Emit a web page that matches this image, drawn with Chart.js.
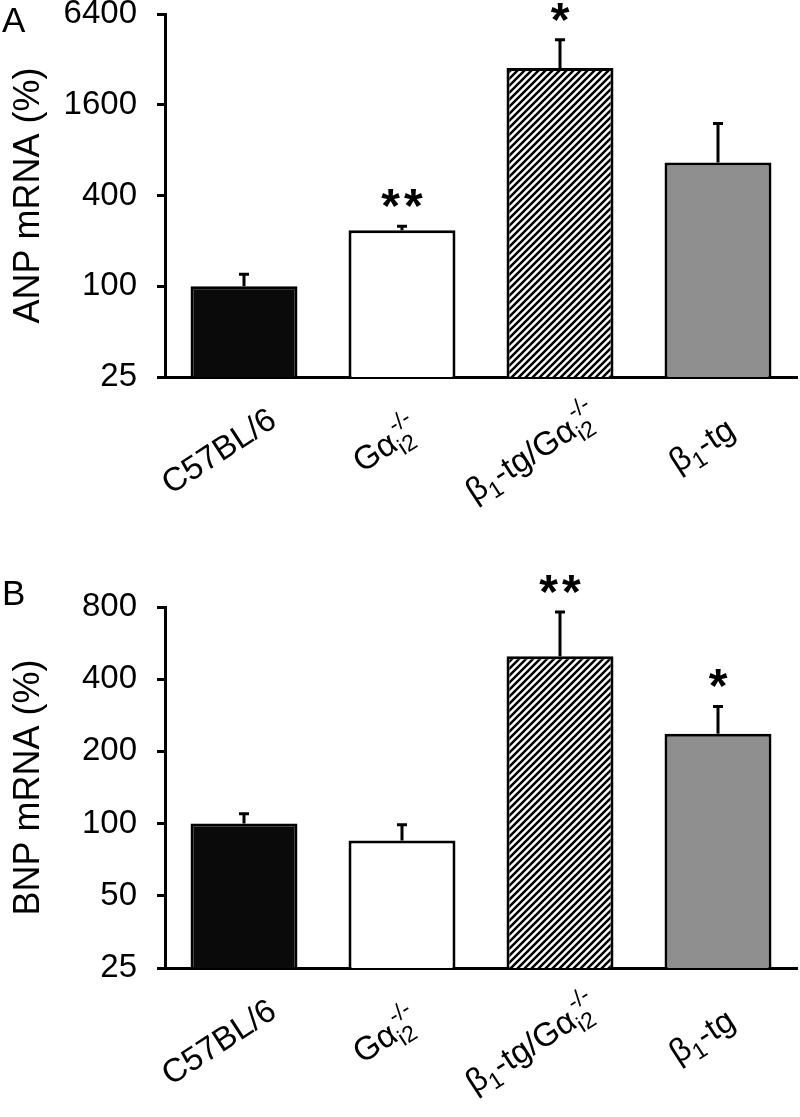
<!DOCTYPE html>
<html lang="en">
<head>
<meta charset="UTF-8">
<title>ANP and BNP mRNA</title>
<script src="https://cdn.jsdelivr.net/npm/chart.js@4/dist/chart.umd.min.js"></script>
<style>
  html, body { margin: 0; padding: 0; background: #fff; }
  .panel { position: absolute; left: 0; width: 800px; }
  #panelA { top: 0; height: 555px; }
  #panelB { top: 555px; height: 562px; }
</style>
</head>
<body>

<div class="panel" id="panelA"><canvas id="chartA" width="800" height="555"></canvas></div>
<div class="panel" id="panelB"><canvas id="chartB" width="800" height="562"></canvas></div>

<script>
// categories, with _{sub} and ^{sup} markup
var categories = ['C57BL/6', 'G\u03b1_{i2}^{-/-}', '\u03b2_{1}-tg/G\u03b1_{i2}^{-/-}', '\u03b2_{1}-tg'];

// ANP mRNA (%) - mean and top of error bar
var anpMean = [100, 235, 2810, 661];
var anpErr = [120, 250, 4320, 1200];
var anpStars = ['', '**', '*', ''];
var anpTicks = [25, 100, 400, 1600, 6400];

// BNP mRNA (%)
var bnpMean = [100, 85, 498, 237];
var bnpErr = [110, 99, 763, 308];
var bnpStars = ['', '', '**', '*'];
var bnpTicks = [25, 50, 100, 200, 400, 800];

var FONT = '"Liberation Sans", Arial, Helvetica, sans-serif';
Chart.defaults.font.family = FONT;
Chart.defaults.color = '#000';

function spacing(ctx, px) {
    if ('letterSpacing' in ctx) ctx.letterSpacing = px + 'px';
}

// diagonal hatch for the double mutant
function makeHatch() {
    var s = 7;
    var c = document.createElement('canvas');
    c.width = s; c.height = s;
    var g = c.getContext('2d');
    g.fillStyle = '#fff';
    g.fillRect(0, 0, s, s);
    g.strokeStyle = '#000';
    g.lineWidth = 2.5;
    g.beginPath();
    g.moveTo(0, s); g.lineTo(s, 0);
    g.moveTo(-1, 1); g.lineTo(1, -1);
    g.moveTo(s - 1, s + 1); g.lineTo(s + 1, s - 1);
    g.stroke();
    return document.getElementById('chartA').getContext('2d').createPattern(c, 'repeat');
}
var hatch = makeHatch();
var barColors = ['#0a0a0a', '#ffffff', hatch, '#8f8f8f'];

function parseLabel(str) {
    var parts = [];
    var re = /(_\{[^}]*\}|\^\{[^}]*\}|[^_^]+)/g, m;
    while ((m = re.exec(str)) !== null) {
        var t = m[1];
        if (t[0] === '_') parts.push({ text: t.slice(2, -1), kind: 'sub' });
        else if (t[0] === '^') parts.push({ text: t.slice(2, -1), kind: 'sup' });
        else parts.push({ text: t, kind: 'n' });
    }
    return parts;
}

function layoutLabel(ctx, parts) {
    var x = 0, items = [], subStart = null, subEnd = 0;
    parts.forEach(function (p) {
        var size = p.kind === 'n' ? 33 : 23;
        ctx.font = size + 'px ' + FONT;
        var w = ctx.measureText(p.text).width;
        var it = { text: p.text, kind: p.kind, size: size };
        if (p.kind === 'sup' && subStart !== null) {
            it.x = subStart + 4;
            x = Math.max(subEnd, it.x + w);
            subStart = null;
        } else {
            it.x = x;
            if (p.kind === 'sub') { subStart = x; subEnd = x + w; } else { subStart = null; }
            x += w;
        }
        items.push(it);
    });
    return { items: items, width: x };
}

var decorPlugin = {
    id: 'decor',
    afterDatasetsDraw: function (chart) {
        var o = chart.options.plugins.decor;
        var ctx = chart.ctx;
        var yScale = chart.scales.y;
        var meta = chart.getDatasetMeta(0);
        ctx.save();
        ctx.strokeStyle = '#000';
        ctx.lineWidth = 3;
        meta.data.forEach(function (bar, i) {
            var yTop = yScale.getPixelForValue(o.errs[i]);
            ctx.beginPath();
            ctx.moveTo(bar.x, bar.y);
            ctx.lineTo(bar.x, yTop);
            ctx.moveTo(bar.x - 5, yTop);
            ctx.lineTo(bar.x + 5, yTop);
            ctx.stroke();

            if (o.stars[i]) {
                ctx.font = 'bold 48px ' + FONT;
                spacing(ctx, 4);
                ctx.textAlign = 'center';
                ctx.textBaseline = 'alphabetic';
                ctx.fillStyle = '#000';
                var mt = ctx.measureText(o.stars[i]);
                ctx.fillText(o.stars[i], bar.x + 2, yTop - 19 - mt.actualBoundingBoxDescent);
                spacing(ctx, 0);
            }
        });
        ctx.restore();
    },
    afterDraw: function (chart) {
        var o = chart.options.plugins.decor;
        var ctx = chart.ctx;
        var xScale = chart.scales.x;
        var axisY = chart.chartArea.bottom;
        var ang = -33 * Math.PI / 180;
        ctx.save();
        spacing(ctx, 0);
        ctx.fillStyle = '#000';
        ctx.textAlign = 'left';
        ctx.textBaseline = 'alphabetic';

        // panel letter
        ctx.font = '35px ' + FONT;
        ctx.fillText(o.letter, 2, o.letterY);

        // rotated category labels, pivot at 68.5% of the label length
        categories.forEach(function (lab, i) {
            var cx = xScale.getPixelForValue(i);
            var lay = layoutLabel(ctx, parseLabel(lab));
            var x0 = -0.685 * lay.width;
            ctx.save();
            ctx.translate(cx + 0.5, axisY + 70);
            ctx.rotate(ang);
            lay.items.forEach(function (it) {
                ctx.font = it.size + 'px ' + FONT;
                var dy = it.kind === 'sub' ? 8 : (it.kind === 'sup' ? -16 : 0);
                ctx.fillText(it.text, x0 + it.x, dy);
            });
            ctx.restore();
        });
        ctx.restore();
    }
};

function makePanel(id, letter, letterY, title, means, errs, stars, ticks, padTop, xHeight) {
    return new Chart(document.getElementById(id), {
        type: 'bar',
        data: {
            labels: categories,
            datasets: [{
                data: means,
                backgroundColor: barColors,
                borderColor: '#000',
                borderWidth: 3,
                borderSkipped: 'start',
                categoryPercentage: 1,
                barPercentage: 0.677
            }]
        },
        options: {
            responsive: false,
            animation: false,
            devicePixelRatio: 1,
            layout: { padding: { left: 0, right: 3, top: padTop, bottom: 0 } },
            plugins: {
                legend: { display: false },
                tooltip: { enabled: false },
                decor: { letter: letter, letterY: letterY, errs: errs, stars: stars }
            },
            scales: {
                x: {
                    afterFit: function (s) { s.height = xHeight; s.paddingLeft = 0; s.paddingRight = 0; },
                    ticks: { display: false },
                    grid: { drawOnChartArea: false, drawTicks: false },
                    border: { color: '#000', width: 3 }
                },
                y: {
                    type: 'logarithmic',
                    min: ticks[0],
                    max: ticks[ticks.length - 1],
                    afterBuildTicks: function (s) {
                        s.ticks = ticks.map(function (v) { return { value: v, major: false }; });
                    },
                    afterFit: function (s) { s.width = 165; s.paddingTop = 0; s.paddingBottom = 0; },
                    ticks: {
                        autoSkip: false,
                        padding: 20,
                        font: { size: 33 },
                        color: '#000',
                        callback: function (v) { return String(v); }
                    },
                    grid: { drawOnChartArea: false, tickLength: 8, tickWidth: 3, tickColor: '#000' },
                    border: { color: '#000', width: 3 },
                    title: {
                        display: true,
                        text: title,
                        color: '#000',
                        font: { size: 36 },
                        padding: { top: 7, bottom: 0 }
                    }
                }
            }
        },
        plugins: [decorPlugin]
    });
}

makePanel('chartA', 'A', 32, 'ANP mRNA (%)', anpMean, anpErr, anpStars, anpTicks, 14, 178);
makePanel('chartB', 'B', 50, 'BNP mRNA (%)', bnpMean, bnpErr, bnpStars, bnpTicks, 52, 149);
</script>

</body>
</html>
